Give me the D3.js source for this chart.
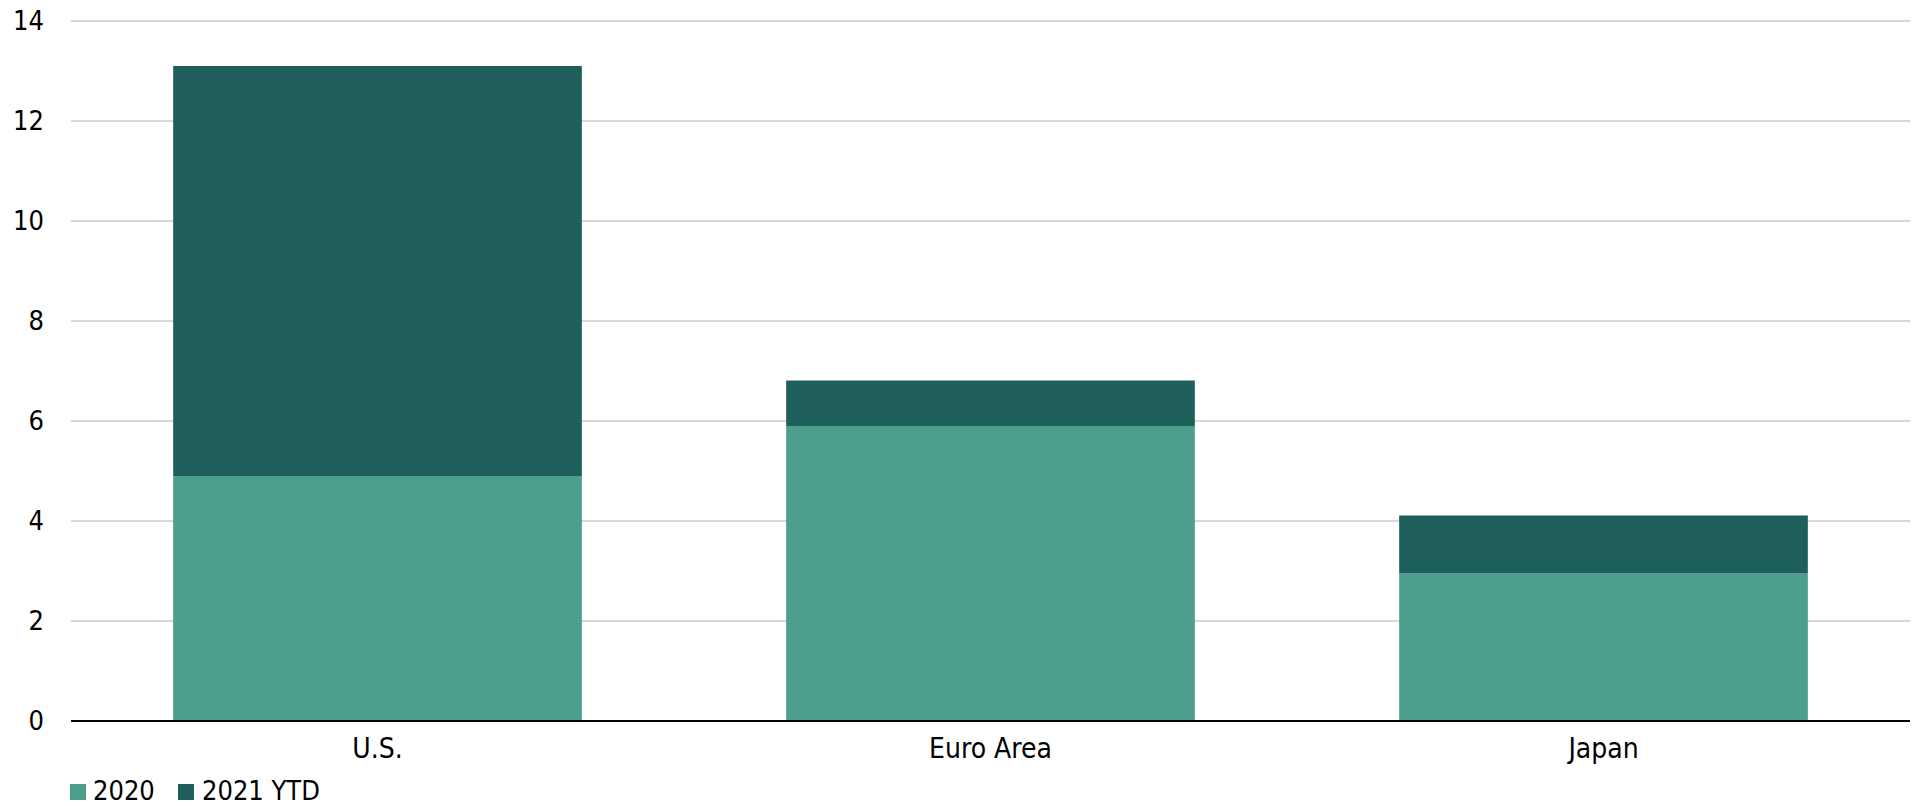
<!DOCTYPE html>
<html>
<head>
<meta charset="utf-8">
<script src="https://cdn.jsdelivr.net/npm/d3@7"></script>
<style>
  html, body { margin: 0; padding: 0; background: #fff; }
  svg { display: block; font-family: "DejaVu Sans Condensed", "DejaVu Sans", sans-serif; }
</style>
</head>
<body>
<svg id="chart" width="1917" height="806"></svg>
<script>
// Regions along the x axis
const categories = ["U.S.", "Euro Area", "Japan"];
// Stacked series values
const series2020 = [4.9, 5.9, 2.95];
const series2021YTD = [8.2, 0.91, 1.16];
const seriesNames = ["2020", "2021 YTD"];
const seriesColors = ["#4c9f8d", "#1e5f5c"];
const yTicks = [0, 2, 4, 6, 8, 10, 12, 14];

const svg = d3.select("#chart");
const margin = { left: 71, right: 7, top: 21, bottom: 85 };
const W = 1917, H = 806;

const x = d3.scaleBand()
  .domain(categories)
  .range([margin.left, W - margin.right])
  .paddingInner(1 / 3)
  .paddingOuter(1 / 6);

const y = d3.scaleLinear()
  .domain([0, 14])
  .range([H - margin.bottom, margin.top]);

// Horizontal gridlines
svg.append("g")
  .selectAll("line")
  .data(yTicks.filter(d => d !== 0))
  .join("line")
  .attr("x1", margin.left)
  .attr("x2", W - margin.right)
  .attr("y1", d => y(d))
  .attr("y2", d => y(d))
  .attr("stroke", "#d9d9d9")
  .attr("stroke-width", 2);

// Y axis tick labels
const yAxis = d3.axisLeft(y).tickValues(yTicks).tickSize(0).tickPadding(0);
svg.append("g")
  .attr("transform", `translate(44,0)`)
  .call(yAxis)
  .call(g => g.select(".domain").remove())
  .call(g => g.selectAll("text")
    .attr("font-size", 27)
    .attr("fill", "#000")
    .attr("font-family", "'DejaVu Sans Condensed', 'DejaVu Sans', sans-serif"));

// Stacked bars
const rows = categories.map((c, i) => ({ cat: c, "2020": series2020[i], "2021 YTD": series2021YTD[i] }));
const stacked = d3.stack().keys(seriesNames)(rows);

svg.append("g")
  .selectAll("g")
  .data(stacked)
  .join("g")
  .attr("fill", (d, i) => seriesColors[i])
  .selectAll("rect")
  .data(d => d)
  .join("rect")
  .attr("x", d => x(d.data.cat))
  .attr("width", x.bandwidth())
  .attr("y", d => y(d[1]))
  .attr("height", d => y(d[0]) - y(d[1]));

// X axis baseline and category labels
const xAxis = d3.axisBottom(x).tickSize(0).tickPadding(17);
svg.append("g")
  .attr("transform", `translate(0,${y(0)})`)
  .call(xAxis)
  .call(g => g.select(".domain")
    .attr("d", `M${margin.left},0H${W - margin.right}`)
    .attr("stroke", "#000")
    .attr("stroke-width", 2))
  .call(g => g.selectAll("text")
    .attr("font-size", 28)
    .attr("fill", "#000")
    .attr("font-family", "'DejaVu Sans Condensed', 'DejaVu Sans', sans-serif"));

// Legend
const legendItems = [
  { name: seriesNames[0], color: seriesColors[0], x: 70, tx: 93 },
  { name: seriesNames[1], color: seriesColors[1], x: 178, tx: 202 }
];
const legend = svg.append("g");
legend.selectAll("rect")
  .data(legendItems)
  .join("rect")
  .attr("x", d => d.x)
  .attr("y", 784)
  .attr("width", 16)
  .attr("height", 16)
  .attr("fill", d => d.color);
legend.selectAll("text")
  .data(legendItems)
  .join("text")
  .attr("x", d => d.tx)
  .attr("y", 800)
  .attr("font-size", 27)
  .attr("fill", "#000")
  .text(d => d.name);
</script>
</body>
</html>
